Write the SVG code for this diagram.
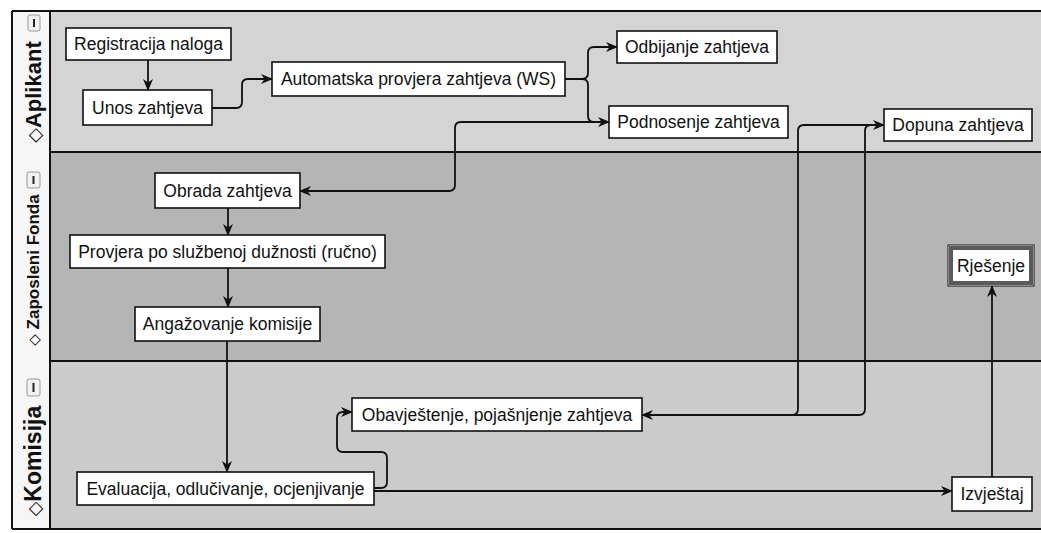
<svg xmlns="http://www.w3.org/2000/svg" width="1041" height="533" viewBox="0 0 1041 533">
<defs>
<style>
.node rect{fill:#fff;stroke:#111;stroke-width:1.6}
.node text{font-family:"Liberation Sans",Arial,sans-serif;font-size:17.5px;fill:#111;text-anchor:middle}
.lanelbl{font-family:"Liberation Sans",Arial,"DejaVu Sans",sans-serif;font-weight:bold;fill:#111;text-anchor:middle}
.dia{font-family:"DejaVu Sans",sans-serif;font-weight:bold}
.conn path{fill:none;stroke:#111;stroke-width:1.8;marker-end:url(#arr)}
.tog rect{fill:#f2f2f2;stroke:#999;stroke-width:1}
.tog line{stroke:#222;stroke-width:2}
.div{stroke:#111;stroke-width:2}
</style>
<marker id="arr" viewBox="0 0 12 10" refX="11" refY="5" markerWidth="12" markerHeight="10" markerUnits="userSpaceOnUse" orient="auto">
<path d="M0,0 L12,5 L0,10 L3.5,5 z" fill="#111"/>
</marker>
</defs>
<rect x="0" y="0" width="1041" height="533" fill="#fff"/>
<g id="lanes">
<rect x="12" y="11" width="1029" height="518" fill="#f6f6f6"/>
<rect x="50" y="11" width="991" height="141" fill="#d4d4d4"/>
<rect x="50" y="152" width="991" height="209" fill="#b5b5b5"/>
<rect x="50" y="361" width="991" height="168" fill="#cbcbcb"/>
<line class="div" x1="12" y1="11" x2="1041" y2="11"/>
<line class="div" x1="12" y1="529" x2="1041" y2="529"/>
<line class="div" x1="12" y1="11" x2="12" y2="529"/>
<line class="div" x1="50" y1="11" x2="50" y2="529"/>
<line class="div" x1="50" y1="152" x2="1041" y2="152"/>
<line class="div" x1="50" y1="361" x2="1041" y2="361"/>
</g>
<g id="lane-aplikant">
<g class="tog"><rect x="28" y="15" width="12" height="16" rx="2"/><line x1="34" y1="19" x2="34" y2="27"/></g>
<text class="lanelbl" font-size="22" transform="translate(41,92) rotate(-90)"><tspan class="dia" font-size="19">◇</tspan>Aplikant</text>
</g>
<g id="lane-zaposleni">
<g class="tog"><rect x="27" y="172" width="13" height="16" rx="2"/><line x1="33.5" y1="176" x2="33.5" y2="184"/></g>
<text class="lanelbl" font-size="17" transform="translate(39,270) rotate(-90)"><tspan class="dia" font-size="15">◇</tspan> Zaposleni Fonda</text>
</g>
<g id="lane-komisija">
<g class="tog"><rect x="27" y="379" width="13" height="17" rx="2"/><line x1="33.5" y1="383" x2="33.5" y2="392"/></g>
<text class="lanelbl" font-size="23" transform="translate(41,461) rotate(-90)"><tspan class="dia" font-size="19">◇</tspan>Komisija</text>
</g>
<g id="connectors" class="conn">
<path d="M148,60 V90"/>
<path d="M212,108 H236 Q242,108 242,102 V85 Q242,79 248,79 H272"/>
<path d="M565,79 H582 Q588,79 588,73 V53 Q588,47 594,47 H617"/>
<path d="M565,79 H582 Q588,79 588,85 V116 Q588,122 594,122 H609"/>
<path d="M609,122 H461 Q455,122 455,128 V185 Q455,191 449,191 H300"/>
<path d="M642,415 H792 Q798,415 798,409 V131 Q798,125 804,125 H884"/>
<path d="M884,125 H871 Q865,125 865,131 V409 Q865,415 859,415 H642"/>
<path d="M228,208 V235"/>
<path d="M228,268 V307"/>
<path d="M227,341 V472"/>
<path d="M374,488 H381 Q387,488 387,482 V458 Q387,452 381,452 H343 Q337,452 337,446 V418 Q337,412 343,412 H352"/>
<path d="M374,491 H952"/>
<path d="M992,477 V286"/>
</g>
<g id="n-registracija" class="node"><rect x="66" y="28" width="165" height="32"/><text x="148.5" y="50">Registracija naloga</text></g>
<g id="n-unos" class="node"><rect x="83" y="90" width="129" height="35"/><text x="147.5" y="113.5">Unos zahtjeva</text></g>
<g id="n-automatska" class="node"><rect x="272" y="62" width="293" height="34"/><text x="418.5" y="85">Automatska provjera zahtjeva (WS)</text></g>
<g id="n-odbijanje" class="node"><rect x="617" y="31" width="160" height="32"/><text x="697" y="53">Odbijanje zahtjeva</text></g>
<g id="n-podnosenje" class="node"><rect x="609" y="106" width="179" height="32"/><text x="698.5" y="128">Podnosenje zahtjeva</text></g>
<g id="n-dopuna" class="node"><rect x="884" y="109" width="148" height="32"/><text x="958" y="131">Dopuna zahtjeva</text></g>
<g id="n-obrada" class="node"><rect x="155" y="173" width="145" height="35"/><text x="227.5" y="196.5">Obrada zahtjeva</text></g>
<g id="n-provjera" class="node"><rect x="70" y="235" width="315" height="33"/><text x="227.5" y="257.5">Provjera po službenoj dužnosti (ručno)</text></g>
<g id="n-angazovanje" class="node"><rect x="135" y="307" width="185" height="34"/><text x="227.5" y="330">Angažovanje komisije</text></g>
<g id="n-rjesenje" class="node"><rect x="948" y="245" width="86" height="41" style="stroke:#111;stroke-width:1"/><rect x="951" y="248" width="80" height="35" style="stroke:#5a5a5a;stroke-width:4"/><text x="991" y="271.5">Rješenje</text></g>
<g id="n-obavjestenje" class="node"><rect x="352" y="398" width="290" height="33"/><text x="497" y="420.5">Obavještenje, pojašnjenje zahtjeva</text></g>
<g id="n-evaluacija" class="node"><rect x="77" y="472" width="297" height="33"/><text x="225.5" y="494.5">Evaluacija, odlučivanje, ocjenjivanje</text></g>
<g id="n-izvjestaj" class="node"><rect x="952" y="477" width="80" height="34"/><text x="992" y="500">Izvještaj</text></g>
</svg>
